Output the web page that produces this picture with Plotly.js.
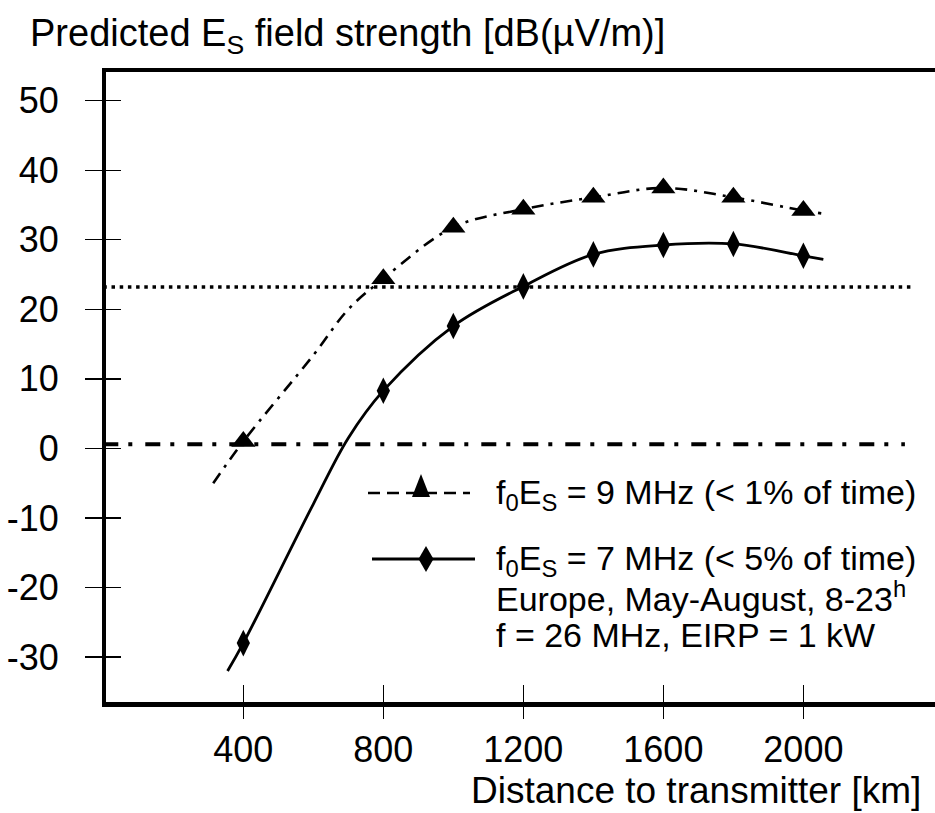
<!DOCTYPE html>
<html><head><meta charset="utf-8">
<script src="https://cdn.plot.ly/plotly-3.0.1.min.js"></script>
<style>html,body{margin:0;padding:0;background:#fff;} #chart{width:935px;height:813px;}</style>
</head><body><div id="chart"></div>
<script>
// Marker points (distance in km, field strength in dB(uV/m))
const markerDistances = [400, 800, 1000, 1200, 1400, 1600, 1800, 2000];
const es9Markers = [1.0, 24.4, 31.8, 34.4, 36.1, 37.45, 36.1, 34.2];
const es7Markers = [-28.0, 8.3, 17.6, 23.3, 27.9, 29.25, 29.4, 27.7];
// Curves
const es9CurveX = [314, 400, 600, 700, 800, 1000, 1200, 1400, 1600, 1800, 2000, 2051];
const es9CurveY = [-5.0, 1.0, 13.4, 20.0, 24.4, 31.8, 34.4, 36.1, 37.45, 36.1, 34.2, 33.8];
const es7CurveX = [355, 400, 600, 700, 800, 1000, 1200, 1400, 1600, 1800, 2000, 2057];
const es7CurveY = [-32.0, -28.0, -8.0, 1.5, 8.3, 17.6, 23.3, 27.9, 29.25, 29.4, 27.7, 27.2];
// Reference levels
const dottedRefX = [0, 2311];
const dottedRefY = [23.2, 23.2];
const dashdotRefX = [0, 2290];
const dashdotRefY = [0.6, 0.6];
// Ticks
const xTickVals = [400, 800, 1200, 1600, 2000];
const xTickText = ['400', '800', '1200', '1600', '2000'];
const yTickVals = [-30, -20, -10, 0, 10, 20, 30, 40, 50];
const yTickText = ['-30', '-20', '-10', '0', '10', '20', '30', '40', '50'];
// Texts
const titleText = 'Predicted E<sub>S</sub> field strength [dB(µV/m)]';
const xTitleText = 'Distance to transmitter [km]';
const legendLines = [
  'f<sub>0</sub>E<sub>S</sub> = 9 MHz (&lt; 1% of time)',
  'f<sub>0</sub>E<sub>S</sub> = 7 MHz (&lt; 5% of time)',
  'Europe, May-August, 8-23<sup>h</sup>',
  'f = 26 MHz, EIRP = 1 kW'
];

const FONT = 'Liberation Sans, Arial, Helvetica, sans-serif';
const XR = [7.7, 2376];
const YR = [-36.47, 54.13];

// plot area in px: left 106, right 935, top 72, bottom 702
const PL = 106, PW = 829, PT = 72, PH = 630;
const px = v => (v - PL) / PW;
const py = v => (PT + PH - v) / PH;

const traces = [
  {x: es9CurveX, y: es9CurveY, mode: 'lines', line: {color: '#000', width: 2.6, shape: 'spline', smoothing: 1, dash: '12px,7px,3px,7px'}, hoverinfo: 'skip'},
  {x: es7CurveX, y: es7CurveY, mode: 'lines', line: {color: '#000', width: 2.8, shape: 'spline', smoothing: 1}, hoverinfo: 'skip'},
  {x: markerDistances, y: es9Markers, mode: 'markers', marker: {symbol: 'triangle-up', size: 21, color: '#000'}},
  {x: markerDistances, y: es7Markers, mode: 'markers', marker: {symbol: 'diamond-tall', size: 19, color: '#000'}},
  {x: dottedRefX, y: dottedRefY, xaxis: 'x2', yaxis: 'y2', mode: 'lines', line: {color: '#000', width: 3.5, dash: '3.5px,4.7px'}},
  {x: dashdotRefX, y: dashdotRefY, xaxis: 'x2', yaxis: 'y2', mode: 'lines', line: {color: '#000', width: 4, dash: '15px,10px,4px,13px'}}
];

const legendShapes = [
  {type: 'line', xref: 'paper', yref: 'paper', x0: px(368), x1: px(470), y0: py(493), y1: py(493), line: {color: '#000', width: 2.5, dash: '12px,7px'}},
  {type: 'path', xref: 'paper', yref: 'paper', xsizemode: 'pixel', ysizemode: 'pixel', xanchor: px(421), yanchor: py(489),
   path: 'M-9,-8 L9,-8 L0,15 Z', fillcolor: '#000', line: {width: 0}},
  {type: 'line', xref: 'paper', yref: 'paper', x0: px(372), x1: px(475), y0: py(559), y1: py(559), line: {color: '#000', width: 2.8}},
  {type: 'path', xref: 'paper', yref: 'paper', xsizemode: 'pixel', ysizemode: 'pixel', xanchor: px(426), yanchor: py(559),
   path: 'M0,-13 L7.5,0 L0,13 L-7.5,0 Z', fillcolor: '#000', line: {width: 0}}
];

const legendY = [494, 560, 596, 635];
const annotations = [
  {text: titleText, xref: 'paper', yref: 'paper', x: px(28), y: py(36), xanchor: 'left', yanchor: 'middle', showarrow: false, font: {family: FONT, size: 38, color: '#000'}},
  {text: xTitleText, xref: 'paper', yref: 'paper', x: px(923), y: py(790), xanchor: 'right', yanchor: 'middle', showarrow: false, font: {family: FONT, size: 37, color: '#000'}}
].concat(legendLines.map((t, i) => ({
  text: t, xref: 'paper', yref: 'paper', x: px(494), y: py(legendY[i]), xanchor: 'left', yanchor: 'middle', showarrow: false,
  font: {family: FONT, size: 34, color: '#000'}
})));

const axBase = {showgrid: false, zeroline: false, tickcolor: '#000', tickwidth: 1.3, fixedrange: true};

const layout = {
  width: 935, height: 813, autosize: false,
  paper_bgcolor: '#fff', plot_bgcolor: '#fff',
  margin: {l: PL, r: 935 - PL - PW, t: PT, b: 813 - PT - PH, pad: 0},
  showlegend: false,
  font: {family: FONT, color: '#000'},
  xaxis: Object.assign({}, axBase, {range: XR, showline: true, linewidth: 4.5, linecolor: '#000', mirror: true,
    ticks: 'outside', ticklen: 12.5, tickvals: xTickVals, ticktext: xTickText, tickfont: {family: FONT, size: 36, color: '#000'},
    ticklabelstandoff: 0}),
  yaxis: Object.assign({}, axBase, {range: YR, showline: true, linewidth: 4.5, linecolor: '#000',
    ticks: 'outside', ticklen: 16.5, tickvals: yTickVals, ticktext: yTickText, tickfont: {family: FONT, size: 36, color: '#000'},
    ticklabelstandoff: 19}),
  xaxis2: Object.assign({}, axBase, {range: XR, overlaying: 'x', anchor: 'y2', side: 'bottom', showline: false,
    ticks: 'inside', ticklen: 17, tickvals: xTickVals, showticklabels: false}),
  yaxis2: Object.assign({}, axBase, {range: YR, overlaying: 'y', anchor: 'x2', side: 'left', showline: false,
    ticks: 'inside', ticklen: 15, tickvals: yTickVals, showticklabels: false}),
  shapes: legendShapes,
  annotations: annotations
};

Plotly.newPlot('chart', traces, layout, {displayModeBar: false, staticPlot: true});
</script>
</body></html>
